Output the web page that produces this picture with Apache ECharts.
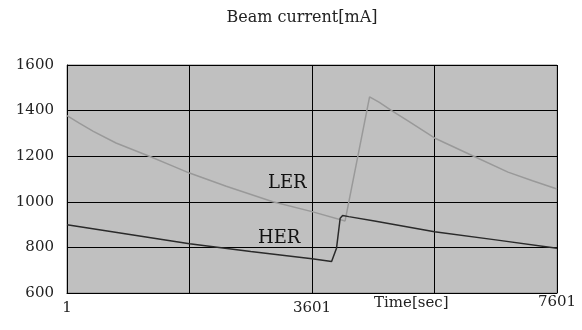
<!DOCTYPE html>
<html>
<head>
<meta charset="utf-8">
<script src="https://cdn.jsdelivr.net/npm/echarts@6/dist/echarts.min.js"></script>
<style>
  html, body { margin: 0; padding: 0; background: #fff; }
  #main { width: 582px; height: 330px; }
</style>
</head>
<body>
<div id="main"></div>
<script>
// x positions are in grid divisions (0..4), the axis labels give the time
const xTickLabels = ['1', '', '3601', '', '7601'];

// LER beam current (gray)
const lerX = [0, 0.1, 0.215, 0.4, 0.672, 0.85, 1.0, 1.3, 1.68, 2.0, 2.27, 2.47, 2.55, 2.65, 2.79, 3.0, 3.32, 3.6, 3.8, 4.0];
const lerY = [1378, 1345, 1309, 1258, 1200, 1160, 1126, 1068, 1000, 957, 916, 1460, 1436, 1400, 1353, 1280, 1200, 1130, 1092, 1056];

// HER beam current (dark)
const herX = [0, 0.5, 1.0, 1.5, 2.0, 2.16, 2.2, 2.23, 2.25, 2.3, 2.51, 3.0, 3.5, 4.0];
const herY = [899, 858, 816, 782, 750, 738, 796, 928, 940, 935, 916, 869, 833, 796];

const yTicks = [600, 800, 1000, 1200, 1400, 1600];

function pairs(xs, ys) {
    return xs.map((x, i) => [x, ys[i]]);
}

const font = 'DejaVu Serif';
const chart = echarts.init(document.getElementById('main'));

const option = {
    animation: false,
    title: {
        text: 'Beam current[mA]',
        left: 297,
        top: 5,
        textAlign: 'center',
        textStyle: { fontFamily: font, fontSize: 16, fontWeight: 'normal', color: '#222' }
    },
    grid: {
        left: 67,
        right: 25,
        top: 65,
        bottom: 37,
        show: true,
        backgroundColor: '#c0c0c0',
        borderColor: '#888',
        borderWidth: 1
    },
    xAxis: {
        type: 'value',
        min: 0,
        max: 4,
        interval: 1,
        axisLine: { show: true, lineStyle: { color: '#000', width: 1 } },
        axisTick: { show: false },
        splitLine: { show: true, lineStyle: { color: '#000', width: 1 } },
        axisLabel: {
            margin: 2,
            fontFamily: font,
            fontSize: 15,
            color: '#222',
            formatter: function (v) {
                const s = xTickLabels[Math.round(v)] || '';
                if (s === '') return '';
                return s === '7601' ? s : '{low|' + s + '}';
            },
            rich: {
                low: { fontFamily: font, fontSize: 15, color: '#222', padding: [6, 0, 0, 0] }
            }
        }
    },
    yAxis: {
        type: 'value',
        min: yTicks[0],
        max: yTicks[yTicks.length - 1],
        interval: 200,
        axisLine: { show: true, lineStyle: { color: '#000', width: 1 } },
        axisTick: { show: false },
        splitLine: { show: true, lineStyle: { color: '#000', width: 1 } },
        axisLabel: {
            margin: 13, fontFamily: font, fontSize: 15, color: '#222',
            formatter: function (v) { return String(v); }
        }
    },
    series: [
        {
            name: 'LER',
            type: 'line',
            data: pairs(lerX, lerY),
            symbol: 'none',
            lineStyle: { color: '#999', width: 1.5 },
            z: 3
        },
        {
            name: 'HER',
            type: 'line',
            data: pairs(herX, herY),
            symbol: 'none',
            lineStyle: { color: '#2a2a2a', width: 1.5 },
            z: 4
        }
    ],
    graphic: [
        { type: 'text', left: 268, top: 174, style: { text: 'LER', font: '18px "DejaVu Serif"', fill: '#111' } },
        { type: 'text', left: 258, top: 229, style: { text: 'HER', font: '18px "DejaVu Serif"', fill: '#111' } },
        { type: 'text', left: 374, top: 296, style: { text: 'Time[sec]', font: '15px "DejaVu Serif"', fill: '#222' } }
    ]
};

chart.setOption(option);
</script>
</body>
</html>
